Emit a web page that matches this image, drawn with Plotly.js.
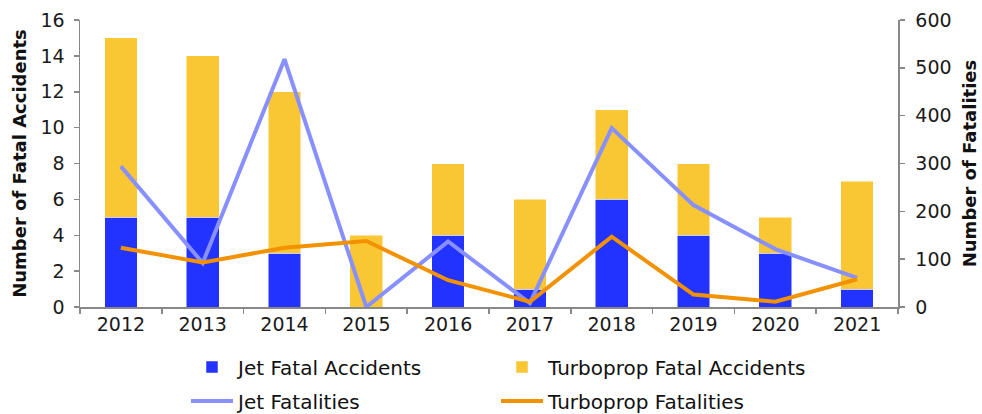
<!DOCTYPE html>
<html>
<head>
<meta charset="utf-8">
<script src="https://cdn.plot.ly/plotly-3.0.1.min.js"></script>
<style>html,body{margin:0;padding:0;background:#fff;}#chart{width:982px;height:414px;}</style>
</head>
<body>
<div id="chart"></div>
<script>
const years = ["2012","2013","2014","2015","2016","2017","2018","2019","2020","2021"];
const jetAccidents = [5, 5, 3, 0, 4, 1, 6, 4, 3, 1];
const turbopropAccidents = [10, 9, 9, 4, 4, 5, 5, 4, 2, 6];
const jetFatalities = [294, 92, 518, 0, 137, 8, 374, 213, 121, 61];
const turbopropFatalities = [124, 93, 124, 138, 56, 11, 147, 26, 11, 58];

const tickFont = {family: "DejaVu Sans, sans-serif", size: 19, color: "#1a1a1a"};
const titleFont = {family: "DejaVu Sans, sans-serif", size: 18, color: "#111", weight: "bold"};
const legendFont = {family: "DejaVu Sans, sans-serif", size: 20, color: "#111"};

const data = [
  {type: "bar", name: "Jet Fatal Accidents", x: years, y: jetAccidents,
   marker: {color: "#2233FF", line: {color: "#ffffff", width: 0.5}}, legend: "legend"},
  {type: "bar", name: "Turboprop Fatal Accidents", x: years, y: turbopropAccidents,
   marker: {color: "#F9C733", line: {color: "#ffffff", width: 0.5}}, legend: "legend"},
  {type: "scatter", mode: "lines", name: "Jet Fatalities", x: years, y: jetFatalities,
   yaxis: "y2", line: {color: "#8890FF", width: 4}, legend: "legend2"},
  {type: "scatter", mode: "lines", name: "Turboprop Fatalities", x: years, y: turbopropFatalities,
   yaxis: "y2", line: {color: "#F29200", width: 4}, legend: "legend2"}
];

const layout = {
  width: 982, height: 414,
  margin: {l: 80, r: 84, t: 20, b: 107, autoexpand: false},
  paper_bgcolor: "#fff", plot_bgcolor: "#fff",
  barmode: "stack", bargap: 0.6,
  showlegend: true,
  xaxis: {
    type: "category", showline: true, linecolor: "#888", linewidth: 1.5,
    ticks: "outside", tickson: "boundaries", ticklen: 5, tickcolor: "#888", tickwidth: 1.5,
    tickfont: tickFont, showgrid: false, zeroline: false, fixedrange: true
  },
  yaxis: {
    range: [0, 16], dtick: 2, showline: true, linecolor: "#888", linewidth: 1.5,
    ticks: "outside", ticklen: 5, tickcolor: "#888", tickwidth: 1.5, ticklabelstandoff: 5,
    tickfont: tickFont, showgrid: false, zeroline: false,
    title: {text: "Number of Fatal Accidents", font: titleFont, standoff: 9}
  },
  yaxis2: {
    range: [0, 600], dtick: 100, overlaying: "y", side: "right",
    showline: true, linecolor: "#888", linewidth: 1.5,
    ticks: "outside", ticklen: 5, tickcolor: "#888", tickwidth: 1.5, ticklabelstandoff: 7,
    tickfont: tickFont, showgrid: false, zeroline: false,
    title: {text: "Number of Fatalities", font: titleFont, standoff: 13}
  },
  legend: {
    orientation: "h", xref: "container", x: 186/982, xanchor: "left",
    yref: "container", y: (414-367)/414, yanchor: "middle",
    font: legendFont, entrywidth: 253, itemwidth: 42, bgcolor: "rgba(0,0,0,0)", traceorder: "normal"
  },
  legend2: {
    orientation: "h", xref: "container", x: 186/982, xanchor: "left",
    yref: "container", y: (414-401)/414, yanchor: "middle",
    font: legendFont, entrywidth: 253, itemwidth: 42, bgcolor: "rgba(0,0,0,0)", traceorder: "normal"
  }
};

Plotly.newPlot("chart", data, layout, {displayModeBar: false, staticPlot: true});
</script>
</body>
</html>
